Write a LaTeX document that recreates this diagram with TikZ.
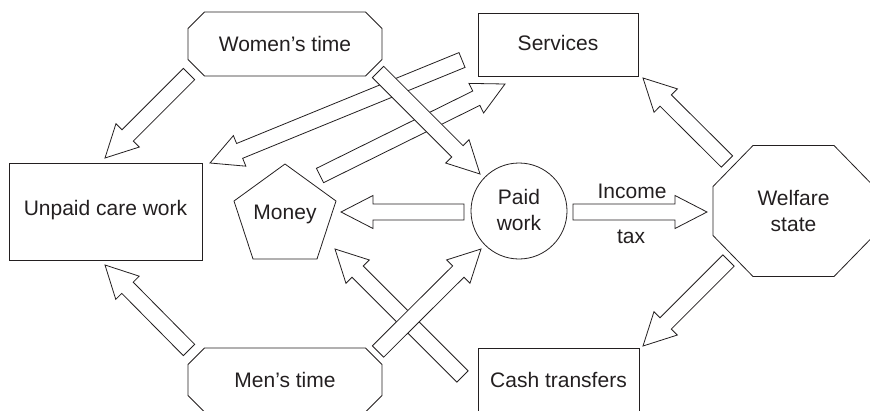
\documentclass[tikz,border=0pt]{standalone}
\usepackage{fontspec}
\setmainfont{Liberation Sans}
\usetikzlibrary{calc}
\definecolor{ink}{RGB}{35,31,32}
\tikzset{
  txt/.style={font=\fontsize{21}{26}\selectfont, text=ink, align=center, inner sep=0pt},
  shapeline/.style={draw=ink, line width=0.8pt, line join=miter},
  boxn/.style={shapeline, rectangle, inner sep=0pt},
  blk/.style={draw=ink, fill=white, line width=0.8pt, line join=miter},
}
% block arrow from coordinate #1 (tail centre) to coordinate #2 (tip)
\newcommand\barr[2]{%
  \coordinate (bah) at ($(#2)!32pt!(#1)$);
  \draw[blk] ($(#1)!8pt!90:(#2)$) -- ($(bah)!8pt!-90:(#1)$) -- ($(bah)!16.5pt!-90:(#1)$)
    -- (#2) -- ($(bah)!16.5pt!90:(#1)$) -- ($(bah)!8pt!90:(#1)$) -- ($(#1)!8pt!-90:(#2)$) -- cycle;
}
% octagon around node #1: half width #2, half height #3, chamfer #4 (x) #5 (y)
\newcommand\octo[5]{%
  \draw[shapeline] ([shift={(-#2,-#3+#5)}]#1.center) -- ([shift={(-#2+#4,-#3)}]#1.center)
    -- ([shift={(#2-#4,-#3)}]#1.center) -- ([shift={(#2,-#3+#5)}]#1.center)
    -- ([shift={(#2,#3-#5)}]#1.center) -- ([shift={(#2-#4,#3)}]#1.center)
    -- ([shift={(-#2+#4,#3)}]#1.center) -- ([shift={(-#2,#3-#5)}]#1.center) -- cycle;
}
\begin{document}
\begin{tikzpicture}[x=1pt,y=-1pt]
\useasboundingbox (0,0) rectangle (870,410);

% rectangular nodes
\node[boxn, minimum width=193pt, minimum height=97pt] (unpaid) at (105.5,211.5) {};
\node[txt, anchor=base] (unpaidt) at (105.5,215) {Unpaid care work};
\node[boxn, minimum width=160pt, minimum height=63pt] (services) at (558,44.5) {};
\node[txt, anchor=base] (servicest) at (558,50.5) {Services};
\node[boxn, minimum width=161pt, minimum height=63pt] (cash) at (558.5,379.5) {};
\node[txt, anchor=base] (casht) at (558.5,387) {Cash transfers};

% octagon nodes
\node[txt, anchor=base] (womenb) at (285,51) {Women’s time};
\coordinate (women) at (285,44);
\octo{women}{97}{32}{16.5}{16.5}
\node[txt, anchor=base] (menb) at (285,387) {Men’s time};
\coordinate (men) at (285,380);
\octo{men}{97}{32}{16.5}{16.5}
\node[txt] (welfare) at (793.5,211) {Welfare\\state};
\octo{welfare}{80.5}{65.5}{40}{41}

% circle
\node[shapeline, circle, minimum size=96pt, inner sep=0pt] (paid) at (519,211) {};
\node[txt] (paidt) at (519,209.5) {Paid\\work};

% pentagon
\node[txt, anchor=base] (money) at (285,219.5) {Money};
\draw[shapeline] (285,164) coordinate (m1) -- (336,201) coordinate (m2) -- (317,259) coordinate (m3)
  -- (253,259) coordinate (m4) -- (234,201) coordinate (m5) -- cycle;

% arrow end points
\coordinate (a1s) at (189,74);    \coordinate (a1e) at (105,158);
\coordinate (a2s) at (462,60);    \coordinate (a2e) at (210,163);
\coordinate (a3s) at (320,175.5); \coordinate (a3e) at (505,84);
\coordinate (a4s) at (378,72);    \coordinate (a4e) at (480,174);
\coordinate (a5s) at (464,212);   \coordinate (a5e) at (341,212);
\coordinate (a6s) at (573,212);   \coordinate (a6e) at (707,212);
\coordinate (a7s) at (727,161.5); \coordinate (a7e) at (643,78);
\coordinate (a8s) at (728.5,260.5); \coordinate (a8e) at (643,346);
\coordinate (a9s) at (189,350);   \coordinate (a9e) at (105,265);
\coordinate (a10s) at (378,351.5); \coordinate (a10e) at (481,249);
\coordinate (a11s) at (462.5,376.5); \coordinate (a11e) at (335,249);

\barr{a1s}{a1e}
\barr{a2s}{a2e}
\barr{a3s}{a3e}
\barr{a4s}{a4e}
\barr{a5s}{a5e}
\barr{a6s}{a6e}
\barr{a7s}{a7e}
\barr{a8s}{a8e}
\barr{a9s}{a9e}
\barr{a11s}{a11e}
\barr{a10s}{a10e}

\node[txt, anchor=base] (income) at (632,198) {Income};
\node[txt, anchor=base] (tax) at (631,243) {tax};
\end{tikzpicture}
\end{document}
